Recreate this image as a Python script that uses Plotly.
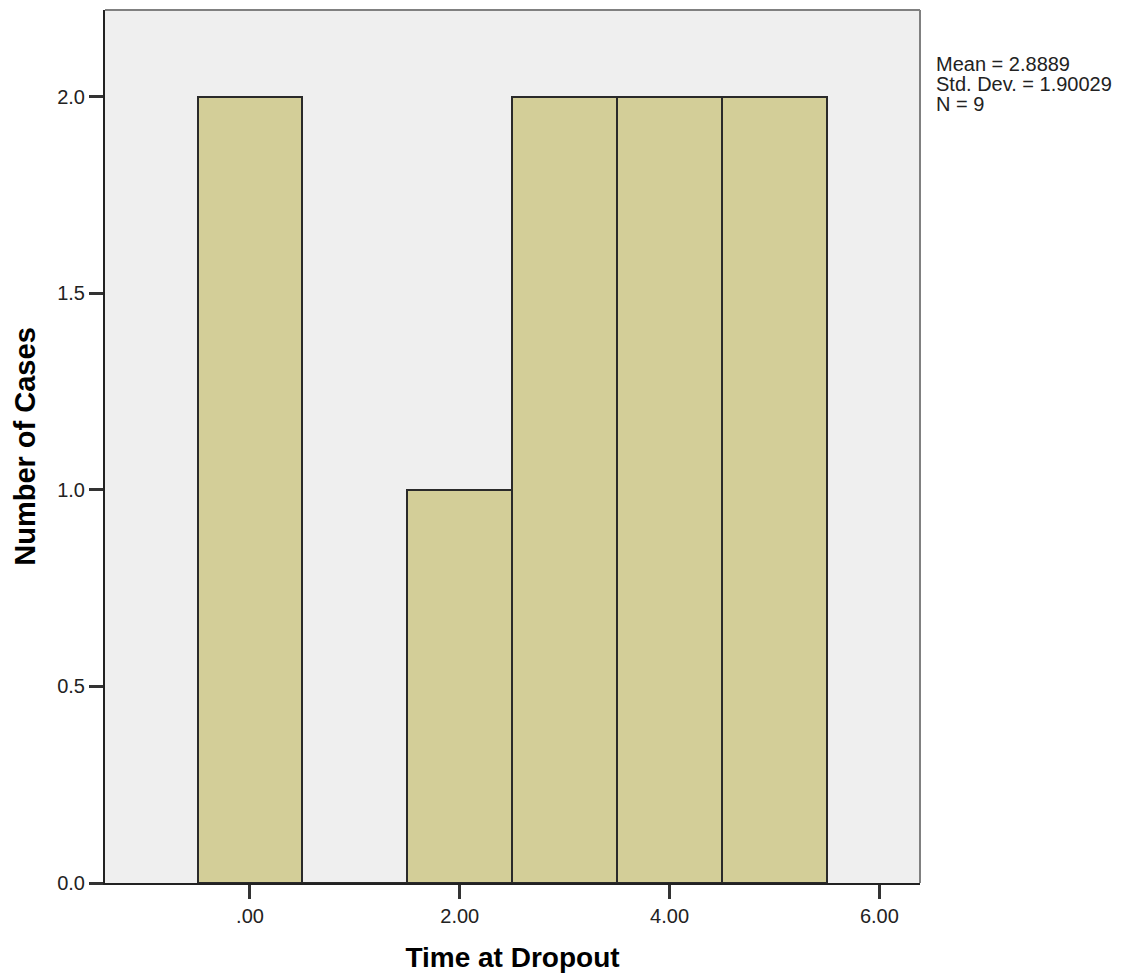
import plotly.graph_objects as go

bin_centers = [0, 1, 2, 3, 4, 5]
counts = [2, 0, 1, 2, 2, 2]
x_ticks = [0, 2, 4, 6]
x_tick_labels = [".00", "2.00", "4.00", "6.00"]
y_ticks = [0, 0.5, 1.0, 1.5, 2.0]
y_tick_labels = ["0.0", "0.5", "1.0", "1.5", "2.0"]
stats_lines = ["Mean = 2.8889", "Std. Dev. = 1.90029", "N = 9"]

fig = go.Figure()
fig.add_trace(go.Bar(
    x=bin_centers, y=counts, width=1,
    marker=dict(color="#D3CE98", line=dict(color="#2a2a2a", width=2)),
    showlegend=False,
))

font_family = "Arial, Liberation Sans, sans-serif"
W, H = 1119, 968
L, R, T, B = 97, 207, 2, 93

fig.update_layout(
    width=W, height=H,
    margin=dict(l=L, r=R, t=T, b=B),
    paper_bgcolor="white", plot_bgcolor="#EFEFEF",
    bargap=0,
    font=dict(family=font_family, size=20, color="#222"),
    xaxis=dict(
        range=[-1.382, 6.387], tickvals=x_ticks, ticktext=x_tick_labels,
        ticks="outside", ticklen=14, tickwidth=2.5, tickcolor="#333",
        showline=True, linecolor="#222", linewidth=2, mirror=False,
        showgrid=False, zeroline=False, automargin=False,
        ticklabelstandoff=0,
        title=dict(text="<b>Time at Dropout</b>", font=dict(size=28, color="#000"), standoff=21),
        tickfont=dict(size=20, color="#222"),
    ),
    yaxis=dict(
        range=[0, 2.221], tickvals=y_ticks, ticktext=y_tick_labels,
        ticks="outside", ticklen=14, tickwidth=2.5, tickcolor="#333",
        showline=True, linecolor="#222", linewidth=2, mirror=False,
        showgrid=False, zeroline=False, automargin=False,
        ticklabelstandoff=0,
        title=dict(text="<b>Number of Cases</b>", font=dict(size=29, color="#000"), standoff=13),
        tickfont=dict(size=20, color="#222"),
    ),
    shapes=[
        dict(type="line", xref="paper", yref="paper", x0=0, x1=1, y0=1, y1=1,
             line=dict(color="#808080", width=2)),
        dict(type="line", xref="paper", yref="paper", x0=1, x1=1, y0=0, y1=1,
             line=dict(color="#808080", width=2)),
    ],
    annotations=[
        dict(text=line, xref="paper", yref="paper", x=1.0, y=1.0,
             xanchor="left", yanchor="top", xshift=14, yshift=-(41 + 20 * i),
             showarrow=False, align="left",
             font=dict(size=20, color="#222"))
        for i, line in enumerate(stats_lines)
    ],
)

fig.write_html("out.html")
